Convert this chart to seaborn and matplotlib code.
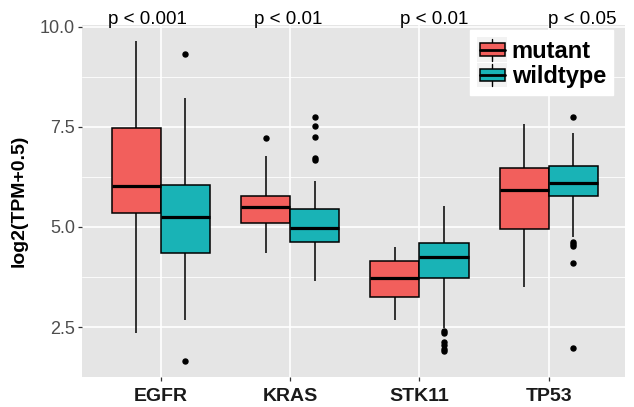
import numpy as np
import pandas as pd
import matplotlib
matplotlib.use("Agg")
import matplotlib.pyplot as plt
import seaborn as sns
from matplotlib.legend_handler import HandlerBase
from matplotlib.patches import Rectangle
from matplotlib.lines import Line2D
from matplotlib.ticker import MultipleLocator

# ---------------- data ----------------
genes = ["EGFR", "KRAS", "STK11", "TP53"]
groups = ["mutant", "wildtype"]

mut_whislo = [2.34, 4.34, 2.68, 3.49]
mut_q1 = [5.36, 5.09, 3.24, 4.96]
mut_med = [6.03, 5.51, 3.72, 5.93]
mut_q3 = [7.48, 5.78, 4.16, 6.47]
mut_whishi = [9.65, 6.78, 4.51, 7.58]
mut_outliers = [[], [7.22], [], []]

wt_whislo = [2.68, 3.65, 2.48, 4.76]
wt_q1 = [4.34, 4.63, 3.73, 5.78]
wt_med = [5.24, 4.98, 4.24, 6.10]
wt_q3 = [6.05, 5.44, 4.59, 6.52]
wt_whishi = [8.23, 6.16, 5.53, 7.34]
wt_outliers = [[9.33, 1.64],
               [7.76, 7.53, 7.26, 6.72, 6.68],
               [2.40, 2.36, 2.12, 2.04, 1.96, 1.90],
               [7.74, 4.63, 4.58, 4.53, 4.09, 1.98]]

pvalue_labels = ["p < 0.001", "p < 0.01", "p < 0.01", "p < 0.05"]
pvalue_x = [-0.10, 0.985, 2.116, 3.256]

colors = {"mutant": "#F25F5C", "wildtype": "#19B3B6"}


def sample_from_stats(lo, q1, med, q3, hi, outs, m=50):
    # sample whose quartiles/whiskers reproduce the values
    return list(outs) + [lo] + [q1] * m + [med] * m + [q3] * m + [hi]


rows = []
stats = {
    "mutant": (mut_whislo, mut_q1, mut_med, mut_q3, mut_whishi, mut_outliers),
    "wildtype": (wt_whislo, wt_q1, wt_med, wt_q3, wt_whishi, wt_outliers),
}
for grp in groups:
    lo, q1, med, q3, hi, outs = stats[grp]
    for i, g in enumerate(genes):
        for v in sample_from_stats(lo[i], q1[i], med[i], q3[i], hi[i], outs[i]):
            rows.append({"gene": g, "status": grp, "value": v})
df = pd.DataFrame(rows)

# ---------------- style ----------------
sns.set_style("darkgrid", {"axes.facecolor": "#E5E5E5", "grid.color": "white"})
plt.rcParams["font.family"] = ["Liberation Sans", "DejaVu Sans"]
plt.rcParams["text.color"] = "black"

fig = plt.figure(figsize=(6.34, 4.07), dpi=100)
ax = fig.add_axes([82 / 634, 30 / 407, (625 - 82) / 634, (377 - 25) / 407])

sns.boxplot(data=df, x="gene", y="value", hue="status", order=genes,
            hue_order=groups, palette=colors, saturation=1, width=0.76,
            gap=0, linecolor="black", linewidth=1.1, fliersize=3.6,
            showcaps=False, legend=False,
            flierprops=dict(marker="o", markerfacecolor="black",
                            markeredgecolor="black"),
            medianprops=dict(linewidth=2.3, color="black"),
            ax=ax)

ax.set_xlim(-0.61, 3.59)
ax.set_ylim(1.25, 10.05)
ax.set_yticks([2.5, 5.0, 7.5, 10.0])
ax.set_yticklabels(["2.5", "5.0", "7.5", "10.0"])
ax.yaxis.set_minor_locator(MultipleLocator(1.25))
ax.set_axisbelow(True)
ax.grid(True, which="major", color="white", linewidth=1.2)
ax.grid(True, which="minor", axis="y", color="white", linewidth=0.6)
ax.grid(False, which="minor", axis="x")
for s in ax.spines.values():
    s.set_visible(False)

ax.tick_params(axis="both", which="major", length=3, width=0.9,
               color="#333333", direction="out", left=True, bottom=True)
ax.tick_params(axis="y", which="minor", length=0, left=False)
ax.tick_params(axis="y", labelsize=13, labelcolor="#4D4D4D", pad=2)
ax.tick_params(axis="x", labelsize=14, labelcolor="#1A1A1A", pad=5)
for lab in ax.get_xticklabels():
    lab.set_fontweight("bold")

ax.set_xlabel("")
ax.set_ylabel("log2(TPM+0.5)", fontsize=14, fontweight="bold",
              color="black", labelpad=9)

for xp, txt in zip(pvalue_x, pvalue_labels):
    ax.text(xp, 10.07, txt, ha="center", va="baseline", fontsize=13.5,
            color="black", clip_on=False)


class BoxKeyHandler(HandlerBase):
    def create_artists(self, legend, orig_handle, xdescent, ydescent,
                       width, height, fontsize, trans):
        x0, y0 = -xdescent, -ydescent
        bg = Rectangle((x0, y0), width, height, facecolor="#F2F2F2",
                       edgecolor="none", transform=trans)
        bx0 = x0 + width * 0.08
        bw = width * 0.84
        by0 = y0 + height * 0.25
        bh = height * 0.5
        box = Rectangle((bx0, by0), bw, bh,
                        facecolor=orig_handle.get_facecolor(),
                        edgecolor="black", linewidth=1.1, transform=trans)
        xm = x0 + width / 2
        w1 = Line2D([xm, xm], [y0 + height * 0.06, by0], color="black",
                    linewidth=1.0, transform=trans)
        w2 = Line2D([xm, xm], [by0 + bh, y0 + height * 0.94], color="black",
                    linewidth=1.0, transform=trans)
        med = Line2D([bx0, bx0 + bw], [by0 + bh / 2] * 2, color="black",
                     linewidth=2.0, transform=trans)
        return [bg, w1, w2, box, med]


handles = [Rectangle((0, 0), 1, 1, facecolor=colors[g]) for g in groups]
leg = fig.legend(handles, groups, loc="upper right",
                 bbox_to_anchor=(613 / 634, 1 - 30 / 407),
                 bbox_transform=fig.transFigure,
                 handler_map={Rectangle: BoxKeyHandler()},
                 prop={"size": 17, "weight": "bold"},
                 frameon=True, fancybox=False, framealpha=1,
                 edgecolor="white", facecolor="white",
                 handlelength=1.25, handleheight=1.25,
                 handletextpad=0.2, labelspacing=0.0, borderpad=0.3,
                 borderaxespad=0, labelcolor="black")

fig.savefig("out.png", dpi=100)
